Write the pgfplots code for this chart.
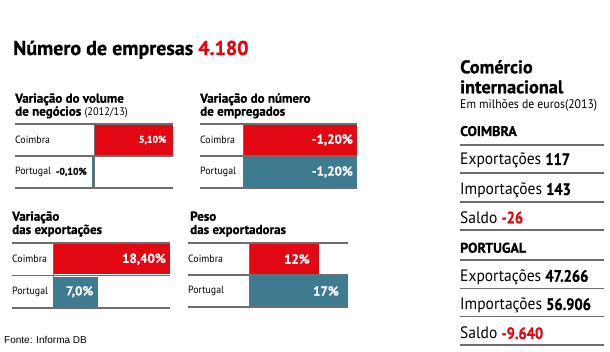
\documentclass[border=0pt]{standalone}
\usepackage{pgfplots}
\pgfplotsset{compat=1.18}
\usepackage{fontspec}
\setmainfont{PT Sans}[FakeStretch=0.94, BoldFeatures={FakeBold=0.6}]
\newfontfamily\hvy{PT Sans}[FakeStretch=1.0, BoldFeatures={FakeBold=0.8}]
\newfontfamily\num{PT Sans}[FakeStretch=0.88, BoldFeatures={FakeBold=0.8}]
\newfontfamily\arial{Liberation Sans}
\definecolor{cred}{HTML}{E30613}
\definecolor{cteal}{HTML}{3E7B90}
\definecolor{linec}{HTML}{6E6E6E}
\newcommand{\fs}[1]{\fontsize{#1}{#1}\selectfont}
\pgfplotsset{panel/.style={xbar, bar shift=0pt, bar width=30pt, scale only axis,
  anchor=south west, hide axis, ymin=-0.5, ymax=1.5, y dir=reverse,
  enlargelimits=false, clip=false, point meta=explicit symbolic, nodes near coords,
  nodes near coords style={anchor=east, inner sep=0pt, xshift=-4pt, font=\hvy\bfseries\fs{13}, text=white}}}
\tikzset{rowlab/.style={anchor=west, inner sep=0pt, font=\fs{10.5}},
  hline/.style={draw=linec, line width=1.2pt},
  zline/.style={draw=linec, line width=0.6pt},
  ttl/.style={anchor=base west, inner sep=0, font=\hvy\bfseries\fs{13}}}
\begin{document}
\begin{tikzpicture}[x=1pt,y=1pt]
\useasboundingbox (0,0) rectangle (610,352);
\node[anchor=base west, inner sep=0, font=\hvy\bfseries\fs{20}] at (13,297) {Número de empresas \textcolor{cred}{4.180}};
% titles
\node[ttl] at (15,249.3) {Variação do volume};
\node[ttl] at (15,236.3) {de negócios {\mdseries\rmfamily\fs{11}(2012/13)}};
\node[ttl] at (200,249.3) {Variação do número};
\node[ttl] at (200,236.3) {de empregados};
\node[ttl] at (12,131.3) {Variação};
\node[ttl] at (12,118) {das exportações};
\node[ttl] at (190,131.3) {Peso};
\node[ttl] at (190,118) {das exportadoras};
% chart 1
\begin{axis}[panel, at={(15pt,164pt)}, width=158pt, height=64pt, xmin=-5.1, xmax=5.1,
  nodes near coords style={font=\hvy\bfseries\fs{9.8}}]
\addplot[fill=cred, draw=none, nodes near coords style={xshift=-2.5pt}] coordinates {(5.1,0) [5,10\%]};
\addplot[fill=cteal, draw=none, nodes near coords style={text=black, xshift=-1.5pt}] coordinates {(-0.1,1) [-0,10\%]};
\draw[zline] (axis cs:0,-0.5) -- (axis cs:0,1.5);
\draw[hline] (axis cs:-5.1,-0.5) -- (axis cs:5.1,-0.5);
\draw[hline] (axis cs:-5.1,0.5) -- (axis cs:5.1,0.5);
\draw[hline] (axis cs:-5.1,1.5) -- (axis cs:5.1,1.5);
\node[rowlab] at (axis cs:-5.1,0) {Coimbra};
\node[rowlab] at (axis cs:-5.1,1) {Portugal};
\end{axis}
% chart 2
\begin{axis}[panel, at={(200pt,164pt)}, width=157pt, height=64pt, x dir=reverse, xmin=-1.2, xmax=0.4526,
  nodes near coords style={font=\hvy\bfseries\fs{13}}]
\addplot[fill=cred, draw=none] coordinates {(-1.2,0) [-1,20\%]};
\addplot[fill=cteal, draw=none] coordinates {(-1.2,1) [-1,20\%]};
\draw[zline] (axis cs:0,-0.5) -- (axis cs:0,1.5);
\draw[hline] (axis cs:0.4526,-0.5) -- (axis cs:-1.2,-0.5);
\draw[hline] (axis cs:0.4526,0.5) -- (axis cs:-1.2,0.5);
\draw[hline] (axis cs:0.4526,1.5) -- (axis cs:-1.2,1.5);
\node[rowlab] at (axis cs:0.4526,0) {Coimbra};
\node[rowlab] at (axis cs:0.4526,1) {Portugal};
\end{axis}
% chart 3
\begin{axis}[panel, at={(12pt,44pt)}, width=158pt, height=65pt, xmin=-6.45, xmax=18.4]
\addplot[fill=cred, draw=none] coordinates {(18.4,0) [18,40\%]};
\addplot[fill=cteal, draw=none] coordinates {(7.0,1) [7,0\%]};
\draw[zline] (axis cs:0,-0.5) -- (axis cs:0,1.5);
\draw[hline] (axis cs:-6.45,-0.5) -- (axis cs:18.4,-0.5);
\draw[hline] (axis cs:-6.45,0.5) -- (axis cs:18.4,0.5);
\draw[hline] (axis cs:-6.45,1.5) -- (axis cs:18.4,1.5);
\node[rowlab] at (axis cs:-6.45,0) {Coimbra};
\node[rowlab] at (axis cs:-6.45,1) {Portugal};
\end{axis}
% chart 4
\begin{axis}[panel, at={(188pt,45pt)}, width=160pt, height=64pt, xmin=-10.47, xmax=17]
\addplot[fill=cred, draw=none, nodes near coords style={xshift=-5pt}] coordinates {(12,0) [12\%]};
\addplot[fill=cteal, draw=none, nodes near coords style={xshift=-5pt}] coordinates {(17,1) [17\%]};
\draw[zline] (axis cs:0,-0.5) -- (axis cs:0,1.5);
\draw[hline] (axis cs:-10.47,-0.5) -- (axis cs:17,-0.5);
\draw[hline] (axis cs:-10.47,0.5) -- (axis cs:17,0.5);
\draw[hline] (axis cs:-10.47,1.5) -- (axis cs:17,1.5);
\node[rowlab] at (axis cs:-10.47,0) {Coimbra};
\node[rowlab] at (axis cs:-10.47,1) {Portugal};
\end{axis}
% right panel
\node[anchor=base west, inner sep=0, font=\hvy\bfseries\fs{18.3}] at (460,278.7) {Comércio};
\node[anchor=base west, inner sep=0, font=\hvy\bfseries\fs{18.3}] at (460,258.7) {internacional};
\node[anchor=base west, inner sep=0, font=\fs{12.5}] at (460,243.7) {Em milhões de euros(2013)};
\node[anchor=base west, inner sep=0, font=\hvy\bfseries\fs{14}] at (460,216) {COIMBRA};
\draw[hline] (460,207) -- (604,207);
\node[anchor=base west, inner sep=0, font=\fs{16.5}] at (460,187) {Exportações {\num\bfseries 117}};
\draw[hline] (460,179) -- (604,179);
\node[anchor=base west, inner sep=0, font=\fs{16.5}] at (460,157) {Importações {\num\bfseries 143}};
\draw[hline] (460,150) -- (604,150);
\node[anchor=base west, inner sep=0, font=\fs{16.5}] at (460,128.7) {Saldo {\num\bfseries\color{cred}-26}};
\draw[hline] (460,122) -- (604,122);
\node[anchor=base west, inner sep=0, font=\hvy\bfseries\fs{14}] at (460,99.3) {PORTUGAL};
\draw[hline] (460,92) -- (604,92);
\node[anchor=base west, inner sep=0, font=\fs{16.5}] at (460,70.3) {Exportações {\num\bfseries 47.266}};
\draw[hline] (460,63.7) -- (604,63.7);
\node[anchor=base west, inner sep=0, font=\fs{16.5}] at (460,42) {Importações {\num\bfseries 56.906}};
\draw[hline] (460,35.3) -- (604,35.3);
\node[anchor=base west, inner sep=0, font=\fs{16.5}] at (460,13) {Saldo {\num\bfseries\color{cred}-9.640}};
\draw[draw=linec, line width=2.2pt] (460,7) -- (604,7);
\node[anchor=base west, inner sep=0, font=\arial\fs{10}] at (4,8.7) {Fonte: Informa DB};
\end{tikzpicture}
\end{document}
